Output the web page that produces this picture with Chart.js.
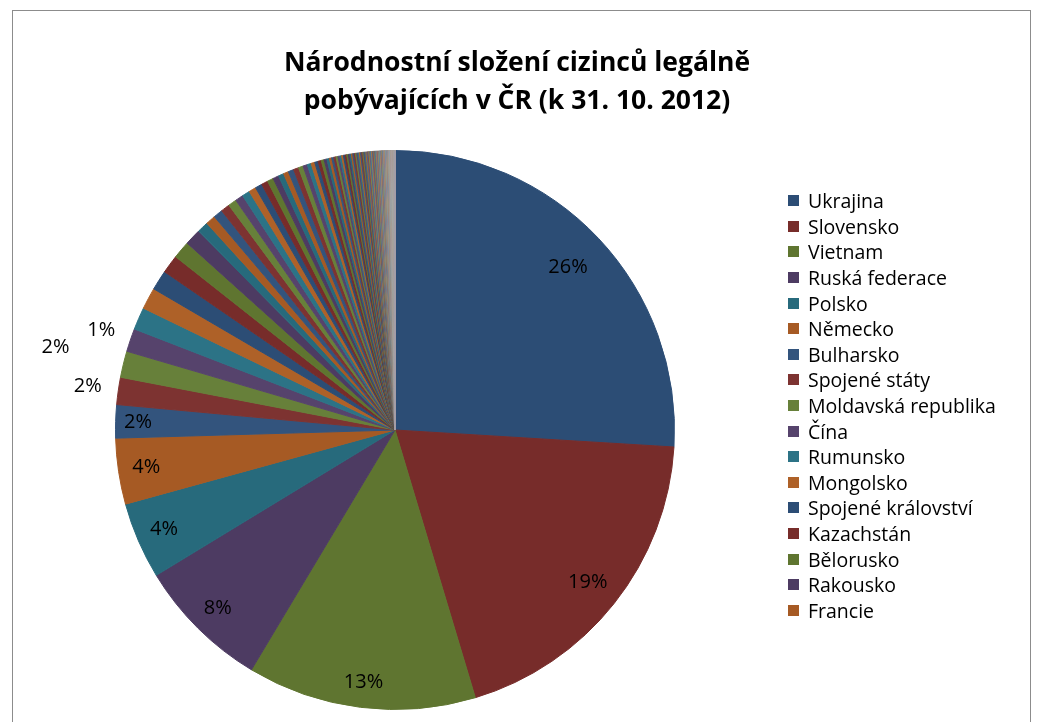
<!DOCTYPE html>
<html lang="cs">
<head>
<meta charset="utf-8">
<title>Národnostní složení cizinců</title>
<script src="https://cdn.jsdelivr.net/npm/chart.js@4.4.1/dist/chart.umd.min.js"></script>
<style>
  body { margin: 0; background: #fff; }
  #wrap { position: relative; width: 1041px; height: 722px; overflow: hidden; }
  #frame { position: absolute; left: 12px; top: 10px; width: 1019px; height: 740px; border: 1px solid #8c8c8c; box-sizing: border-box; }
  #chart { position: absolute; left: 0; top: 0; }
  #title { position: absolute; left: 0; width: 1034px; top: 42px; text-align: center; color: #000;
           font: bold 26.5px "Open Sans", sans-serif; line-height: 38px; }
  #legend { position: absolute; left: 788px; top: 188px; margin: 0; padding: 0; list-style: none;
            font: 19.5px "Open Sans", sans-serif; color: #000; }
  #legend li { height: 25.6px; display: flex; align-items: center; white-space: nowrap; }
  #legend .box { width: 11px; height: 11px; margin-right: 9px; flex: none; }
</style>
</head>
<body>
<div id="wrap">
  <div id="frame"></div>
  <canvas id="chart" width="1041" height="722"></canvas>
  <div id="title">Národnostní složení cizinců legálně<br>pobývajících v ČR (k 31. 10. 2012)</div>
  <ul id="legend"></ul>
</div>
<script>
// Cizinci podle státního občanství (osoby)
const countries = [
  'Ukrajina', 'Slovensko', 'Vietnam', 'Ruská federace', 'Polsko', 'Německo', 'Bulharsko', 'Spojené státy',
  'Moldavská republika', 'Čína', 'Rumunsko', 'Mongolsko', 'Spojené království', 'Kazachstán', 'Bělorusko', 'Rakousko',
  // dalsi staty (v legende neuvedene, krome Francie)
  'Itálie', 'Francie', 'Bosna a Hercegovina', 'Srbsko', 'Nizozemsko', 'Chorvatsko', 'Japonsko', 'Arménie', 'Indie', 'Maďarsko',
  'Uzbekistán', 'Korejská republika', 'Makedonie', 'Kanada',
  'Gruzie', 'Turecko', 'Švédsko', 'Slovinsko', 'Litva', 'Belgie', 'Ázerbájdžán', 'Lotyšsko', 'Švýcarsko', 'Austrálie',
  'Španělsko', 'Kyrgyzstán', 'Nigérie', 'Thajsko',
  'Egypt', 'Izrael', 'Tunisko', 'Irsko', 'Dánsko', 'Řecko', 'Finsko', 'Brazílie', 'Mexiko', 'Norsko',
  'Pákistán', 'Indonésie', 'Filipíny', 'Portugalsko', 'Estonsko', 'Tchaj-wan', 'Kuba', 'Albánie', 'Afghánistán', 'Irák',
  'Írán', 'Sýrie', 'Libanon', 'Jordánsko', 'Alžírsko', 'Maroko', 'Tádžikistán', 'Turkmenistán', 'Černá Hora', 'Kosovo',
  'Nový Zéland', 'Argentina', 'Kolumbie', 'Peru', 'Chile', 'Venezuela', 'Ekvádor', 'Jihoafrická republika', 'Kamerun', 'Ghana',
  'Angola', 'Etiopie', 'Keňa', 'Súdán', 'Jemen', 'Saúdská Arábie', 'Srí Lanka', 'Bangladéš', 'Nepál', 'Malajsie',
  'Singapur', 'Kambodža', 'Laos', 'Myanmar', 'KLDR', 'Lucembursko', 'Island', 'Malta', 'Kypr', 'Libye',
  'Kongo', 'Demokratická republika Kongo', 'Senegal', 'Guinea', 'Mali', 'Niger', 'Čad', 'Togo', 'Benin', 'Pobřeží slonoviny',
  'Tanzanie', 'Uganda', 'Rwanda', 'Zambie', 'Zimbabwe', 'Mosambik', 'Madagaskar', 'Mauricius', 'Namibie', 'Botswana',
  'Bolívie', 'Paraguay', 'Uruguay', 'Dominikánská republika', 'Haiti', 'Jamajka', 'Panama', 'Kostarika', 'Nikaragua', 'Honduras',
  'Guatemala', 'Salvador', 'Trinidad a Tobago', 'Barbados', 'Kuvajt', 'Katar', 'Bahrajn', 'Omán', 'Spojené arabské emiráty', 'Palestina',
  'Bhútán', 'Maledivy', 'Fidži', 'Papua Nová Guinea', 'Eritrea', 'Somálsko', 'Burundi', 'Sierra Leone', 'Libérie', 'Gambie'
];

const residents = [
  112500, 84000, 57300, 33400, 19200, 16500, 8300, 6800,
  6600, 5800, 5600, 5400, 5000, 4600, 4400, 4100,
  2800, 2470, 2330, 2240, 2110, 2020, 1930, 1810, 1740, 1630,
  1540, 1470, 1360, 1280,
  1400, 1290, 1180, 1090, 1000, 930, 860, 800, 740, 690,
  640, 600, 560, 520,
  490, 470, 455, 440, 425, 410, 398, 385, 372, 360,
  348, 337, 326, 315, 305, 296, 287, 278, 270, 262,
  254, 247, 240, 233, 226, 220, 214, 208, 202, 196,
  190, 185, 180, 175, 170, 165, 160, 156, 152, 148,
  144, 140, 136, 132, 128, 125, 122, 119, 116, 113,
  110, 106, 101, 97, 93, 89, 85, 81, 78, 75,
  72, 69, 66, 63, 61, 58, 56, 54, 52, 50,
  48, 46, 44, 42, 40, 38, 36, 34, 32, 30,
  28, 27, 25, 24, 22, 21, 19, 18, 17, 16,
  15, 14, 13, 12, 11, 10, 9, 8, 7, 6,
  5, 5, 4, 4, 3, 3, 2, 2, 1, 1
];

// polozky legendy tak, jak jsou v puvodnim grafu
const legendNames = [
  'Ukrajina', 'Slovensko', 'Vietnam', 'Ruská federace', 'Polsko', 'Německo', 'Bulharsko', 'Spojené státy',
  'Moldavská republika', 'Čína', 'Rumunsko', 'Mongolsko', 'Spojené království', 'Kazachstán', 'Bělorusko',
  'Rakousko', 'Francie'
];

if (countries.length !== residents.length) {
  console.error('countries/residents length mismatch', countries.length, residents.length);
}

// barvy (paleta Excel, tmave odstiny, dale postupne svetlejsi)
const darkShades = ['#2C4D75', '#772C2A', '#5F7530', '#4D3B62', '#276A7C', '#A65A24'];
const midShades = ['#33547D', '#7D3331', '#67803A', '#56436C', '#2C7386', '#AE6128'];

function lighten(hex, t) {
    const n = parseInt(hex.slice(1), 16);
    const ch = [(n >> 16) & 255, (n >> 8) & 255, n & 255].map(c => Math.round(c + (255 - c) * t));
    return 'rgb(' + ch.join(',') + ')';
}

function sliceColor(i) {
    const cycle = Math.floor(i / 6);
    const base = (cycle % 2 === 0 ? darkShades : midShades)[i % 6];
    const t = cycle < 10 ? 0 : Math.min(0.45, (cycle - 9) * 0.05);
    return lighten(base, t);
}

const colors = residents.map((v, i) => sliceColor(i));

// procenta u prvnich deseti vysecí (uvnitr / vne kruhu)
const labelRadius = [0.85, 0.88, 0.91, 0.9, 0.9, 0.9, 0.92, 1.11, 1.25, 1.11];

const percentLabels = {
    id: 'percentLabels',
    afterDatasetsDraw(chart) {
        const ctx = chart.ctx;
        const meta = chart.getDatasetMeta(0);
        const total = residents.reduce((a, b) => a + b, 0);
        ctx.save();
        ctx.font = '20px "Open Sans", sans-serif';
        ctx.fillStyle = '#000';
        ctx.textAlign = 'center';
        ctx.textBaseline = 'middle';
        labelRadius.forEach((f, i) => {
            const p = meta.data[i].getProps(['x', 'y', 'startAngle', 'endAngle', 'outerRadius'], true);
            const mid = (p.startAngle + p.endAngle) / 2;
            const r = p.outerRadius * f;
            const pct = Math.round(residents[i] / total * 100) + '%';
            ctx.fillText(pct, p.x + Math.cos(mid) * r, p.y + Math.sin(mid) * r);
        });
        ctx.restore();
    }
};

const chart = new Chart(document.getElementById('chart').getContext('2d'), {
    type: 'pie',
    data: {
        labels: countries,
        datasets: [{
            data: residents,
            backgroundColor: colors,
            borderColor: colors,
            borderWidth: 1
        }]
    },
    options: {
        responsive: false,
        animation: false,
        layout: {
            padding: { left: 115, right: 366, top: 150, bottom: 12 }
        },
        plugins: {
            legend: { display: false },
            title: { display: false },
            tooltip: { enabled: false }
        }
    },
    plugins: [percentLabels]
});

// HTML legenda
const items = chart.options.plugins.legend.labels.generateLabels(chart);
document.getElementById('legend').innerHTML = legendNames.map(name => {
    const it = items.find(x => x.text === name);
    return '<li><span class="box" style="background:' + it.fillStyle + '"></span>' + name + '</li>';
}).join('');
</script>
</body>
</html>
